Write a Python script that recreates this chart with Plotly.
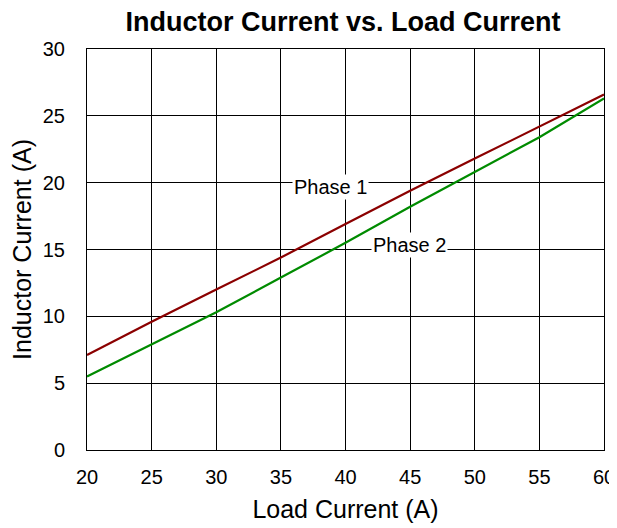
import plotly.graph_objects as go

load_current = [20, 25, 30, 35, 40, 45, 50, 55, 60]
phase1 = [7.1, 9.6, 12.0, 14.4, 16.9, 19.4, 21.8, 24.2, 26.6]
phase2 = [5.5, 7.9, 10.3, 12.9, 15.5, 18.2, 20.8, 23.4, 26.3]

x_ticks = [20, 25, 30, 35, 40, 45, 50, 55, 60]
y_ticks = [0, 5, 10, 15, 20, 25, 30]

font_family = "Liberation Sans, Arial, sans-serif"

fig = go.Figure()
fig.add_trace(go.Scatter(x=load_current, y=phase1, mode="lines",
                         line=dict(color="#8B0000", width=2.2), name="Phase 1"))
fig.add_trace(go.Scatter(x=load_current, y=phase2, mode="lines",
                         line=dict(color="#008B00", width=2.2), name="Phase 2"))

fig.add_annotation(x=38.85, y=19.7, text="Phase 1", showarrow=False,
                   font=dict(family=font_family, size=20, color="black"),
                   bgcolor="white", borderpad=1)
fig.add_annotation(x=44.95, y=15.3, text="Phase 2", showarrow=False,
                   font=dict(family=font_family, size=20, color="black"),
                   bgcolor="white", borderpad=1)

# page body has an 8px margin, so the figure is sized and offset to compensate
fig.update_layout(
    width=609, height=520,
    margin=dict(l=79, r=13, t=41, b=78),
    paper_bgcolor="white", plot_bgcolor="white",
    showlegend=False,
    title=dict(text="<b>Inductor Current vs. Load Current</b>", x=0.550, xanchor="center",
               xref="container", yref="container",
               y=0.974, yanchor="middle",
               font=dict(family=font_family, size=27, color="black")),
    font=dict(family=font_family, color="black"),
)
fig.update_xaxes(range=[20, 60], tickvals=x_ticks, showgrid=True, gridcolor="black", gridwidth=1,
                 showline=True, linecolor="black", linewidth=1, mirror=True, zeroline=False,
                 automargin=False, ticklabeloverflow="allow",
                 ticks="", tickfont=dict(size=20), ticklabelstandoff=9,
                 title=dict(text="Load Current (A)", font=dict(size=25), standoff=13))
fig.update_yaxes(range=[0, 30], tickvals=y_ticks, showgrid=True, gridcolor="black", gridwidth=1,
                 showline=True, linecolor="black", linewidth=1, mirror=True, zeroline=False,
                 automargin=False, ticklabeloverflow="allow",
                 ticks="", tickfont=dict(size=20), ticklabelstandoff=17,
                 title=dict(text="Inductor Current (A)", font=dict(size=25), standoff=12))

fig.write_html("out.html")
